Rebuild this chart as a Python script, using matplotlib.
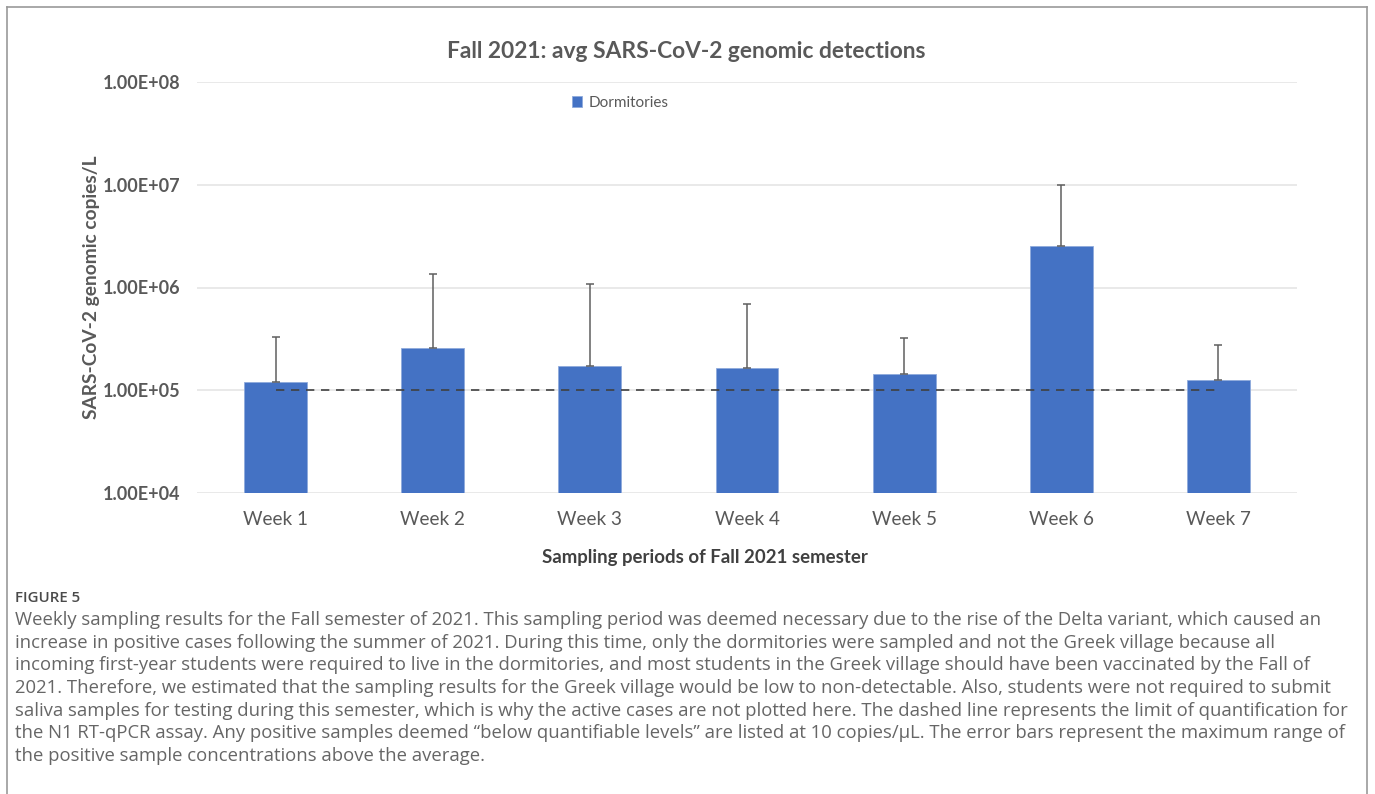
import numpy as np
import matplotlib
matplotlib.use("Agg")
import matplotlib.pyplot as plt
from matplotlib.lines import Line2D

weeks = ["Week 1", "Week 2", "Week 3", "Week 4", "Week 5", "Week 6", "Week 7"]
avg_copies = [1.20e5, 2.56e5, 1.71e5, 1.65e5, 1.43e5, 2.54e6, 1.25e5]
max_copies = [3.3e5, 1.35e6, 1.08e6, 6.95e5, 3.25e5, 1.0e7, 2.78e5]
loq = 1.0e5
yticks = [1e4, 1e5, 1e6, 1e7, 1e8]
ytick_labels = ["1.00E+04", "1.00E+05", "1.00E+06", "1.00E+07", "1.00E+08"]

caption_head = "FIGURE 5"
caption_lines = [
    "Weekly sampling results for the Fall semester of 2021. This sampling period was deemed necessary due to the rise of the Delta variant, which caused an",
    "increase in positive cases following the summer of 2021. During this time, only the dormitories were sampled and not the Greek village because all",
    "incoming first-year students were required to live in the dormitories, and most students in the Greek village should have been vaccinated by the Fall of",
    "2021. Therefore, we estimated that the sampling results for the Greek village would be low to non-detectable. Also, students were not required to submit",
    "saliva samples for testing during this semester, which is why the active cases are not plotted here. The dashed line represents the limit of quantification for",
    "the N1 RT-qPCR assay. Any positive samples deemed \u201cbelow quantifiable levels\u201d are listed at 10 copies/\u03bcL. The error bars represent the maximum range of",
    "the positive sample concentrations above the average.",
]

plt.rcParams['font.family'] = ['Lato', 'DejaVu Sans']
text_grey = "#595959"
bar_blue = "#4472C4"

fig = plt.figure(figsize=(13.75, 7.94), dpi=100)
ax = fig.add_axes([197 / 1375, 1 - 493 / 794, 1100 / 1375, 411 / 794])

x = np.arange(len(weeks))
avg = np.array(avg_copies)
upper = np.array(max_copies) - avg
ax.bar(x, avg, width=0.4, bottom=0, color=bar_blue, edgecolor="#8FAADC",
       linewidth=0.6, zorder=2, label="Dormitories")
ax.errorbar(x, avg, yerr=[np.zeros_like(avg), upper], fmt="none",
            ecolor="#5f5f5f", elinewidth=1.1, capsize=3, capthick=1.1, zorder=3)
ax.plot([x[0], x[-1]], [loq, loq], linestyle=(0, (5, 4)), color="#404040",
        linewidth=1.2, zorder=4)

ax.set_yscale("log")
ax.set_ylim(1e4, 1e8)
ax.set_xlim(-0.5, len(weeks) - 0.5)
ax.set_yticks(yticks)
ax.set_yticklabels(ytick_labels, fontsize=13, fontweight="bold", color=text_grey)
ax.minorticks_off()
ax.set_xticks(x)
ax.set_xticklabels(weeks, fontsize=13.6, color=text_grey)
ax.tick_params(axis="both", length=0)
ax.tick_params(axis="y", pad=12)
ax.tick_params(axis="x", pad=13)
ax.grid(axis="y", color="#e3e3e3", linewidth=1.1, zorder=0)
for s in ax.spines.values():
    s.set_visible(False)

ax.set_ylabel("SARS-CoV-2 genomic copies/L", fontsize=13.8, fontweight="bold",
              color=text_grey)
ax.yaxis.set_label_coords(-0.088, 0.5)
ax.set_xlabel("Sampling periods of Fall 2021 semester", fontsize=13.4,
              fontweight="bold", color="#404040")
ax.xaxis.set_label_coords((705 - 197) / 1100, -0.136)

fig.text(686 / 1375, 1 - 52 / 794, "Fall 2021: avg SARS-CoV-2 genomic detections",
         ha="center", va="center", fontsize=16.4, fontweight="bold", color=text_grey)
ax.legend(loc="center", bbox_to_anchor=(620 / 1375, 1 - 103 / 794),
          bbox_transform=fig.transFigure, frameon=False, fontsize=11,
          handlelength=0.7, handleheight=0.7, handletextpad=0.4,
          labelcolor=text_grey)

# caption
fig.text(15 / 1375, 1 - 598 / 794, caption_head, ha="left", va="center",
         fontsize=10.8, color="#4a4a4a", fontweight="semibold",
         family=["Open Sans", "DejaVu Sans"])
for i, line in enumerate(caption_lines):
    fig.text(15 / 1375, 1 - (620 + 22.7 * i) / 794, line, ha="left", va="center",
             fontsize=13.35, color="#666666", family=["Open Sans", "DejaVu Sans"])

# panel border
border = "#9a9a9a"
fig.add_artist(Line2D([7 / 1375, 7 / 1375], [0, 1 - 7 / 794], color=border, lw=1.2))
fig.add_artist(Line2D([7 / 1375, 1367 / 1375], [1 - 7 / 794, 1 - 7 / 794], color=border, lw=1.2))
fig.add_artist(Line2D([1367 / 1375, 1367 / 1375], [0, 1 - 7 / 794], color=border, lw=1.2))

fig.savefig("out.png", dpi=100)
